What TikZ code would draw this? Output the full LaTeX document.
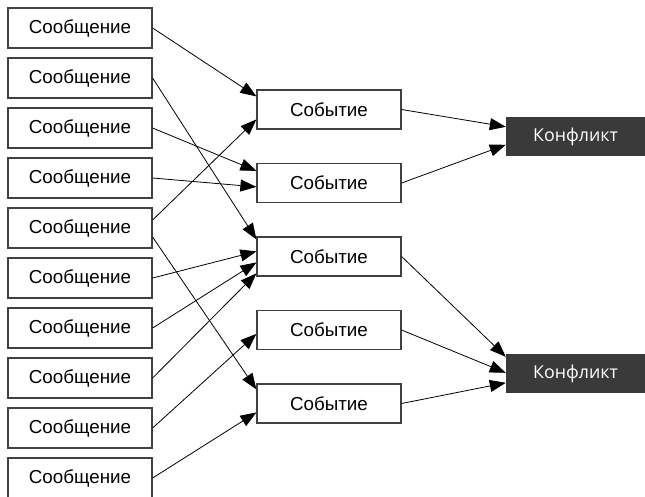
\documentclass[tikz,border=0pt]{standalone}
\usepackage{fontspec}
\setmainfont{Liberation Sans}
\newfontfamily\kffont{Open Sans}
\usetikzlibrary{arrows.meta, positioning}

\definecolor{kfdark}{HTML}{3A3A3A}
\definecolor{boxline}{HTML}{404040}

\tikzset{
  msgbox/.style={draw=boxline, line width=1.2pt, fill=white, minimum width=144pt, minimum height=40pt, inner sep=0pt, font=\fontsize{18.8}{20}\selectfont},
  evbox/.style={msgbox, minimum height=39pt},
  kfbox/.style={fill=kfdark, text=white, minimum width=139pt, minimum height=39pt, inner sep=0pt, font=\kffont\fontsize{17.8}{20}\selectfont},
  link/.style={line width=0.8pt, -{Triangle[length=16pt, width=12pt]}}
}

\begin{document}
\begin{tikzpicture}[x=1pt, y=-1pt]
  \useasboundingbox (0,0) rectangle (645,496);
  \begin{scope}
  \clip (0,0) rectangle (645,496);
  % messages
  \foreach \i in {1,...,10}
    \node[msgbox] (msg\i) at (80,{28+50*(\i-1)}) {Сообщение};
  % events
  \node[evbox] (ev1) at (329,109.5) {Событие};
  \node[evbox] (ev2) at (329,183) {Событие};
  \node[evbox] (ev3) at (329,256.5) {Событие};
  \node[evbox] (ev4) at (329,330) {Событие};
  \node[evbox] (ev5) at (329,403.5) {Событие};
  % conflicts
  \node[kfbox] (kf1) at (575.5,136.5) {Конфликт};
  \node[kfbox] (kf2) at (575.5,373.5) {Конфликт};
  % messages to events
  \draw[link] (msg1.east) -- ([yshift=-7pt]ev1.north west);
  \draw[link] (msg2.east) -- ([yshift=-3pt]ev3.north west);
  \draw[link] (msg3.east) -- ([yshift=-8pt]ev2.north west);
  \draw[link] (msg4.east) -- ([yshift=-24pt]ev2.north west);
  \draw[link] ([yshift=8pt]msg5.east) -- ([yshift=-30pt]ev1.north west);
  \draw[link] ([yshift=-9pt]msg5.east) -- ([yshift=-6pt]ev5.north west);
  \draw[link] (msg6.east) -- ([yshift=-15pt]ev3.north west);
  \draw[link] (msg7.east) -- ([yshift=-26pt]ev3.north west);
  \draw[link] (msg8.east) -- ([yshift=-37pt]ev3.north west);
  \draw[link] (msg9.east) -- ([yshift=-24pt]ev4.north west);
  \draw[link] (msg10.east) -- ([yshift=-29pt]ev5.north west);
  % events to conflicts
  \draw[link] (ev1.east) -- ([yshift=-10pt]kf1.north west);
  \draw[link] (ev2.east) -- ([yshift=-28pt]kf1.north west);
  \draw[link] (ev3.east) -- ([yshift=-3pt]kf2.north west);
  \draw[link] (ev4.east) -- ([yshift=-19pt]kf2.north west);
  \draw[link] (ev5.east) -- ([yshift=-29pt]kf2.north west);
  \end{scope}
\end{tikzpicture}
\end{document}
